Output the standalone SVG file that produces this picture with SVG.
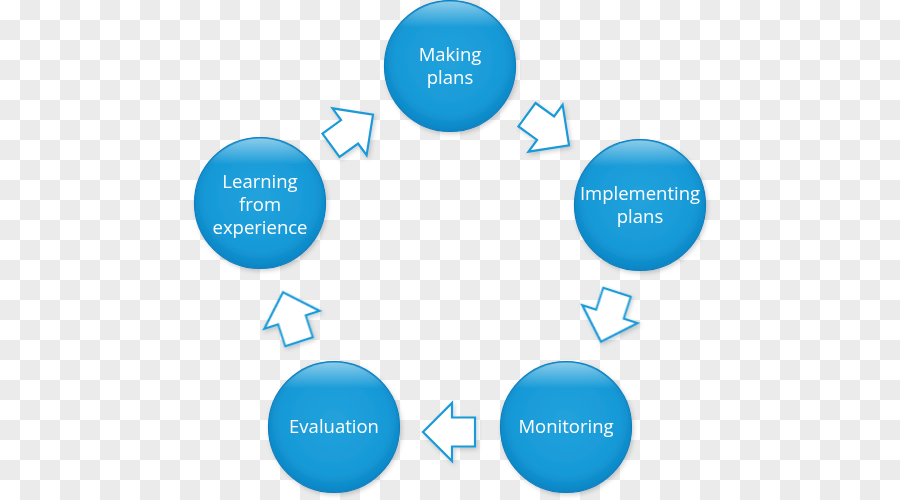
<svg xmlns="http://www.w3.org/2000/svg" width="900" height="500" viewBox="0 0 900 500">
  <defs>
    <pattern id="checker" width="40" height="40" patternUnits="userSpaceOnUse">
      <rect width="40" height="40" fill="#ffffff"/>
      <rect x="20" y="0" width="20" height="20" fill="#ebebeb"/>
      <rect x="0" y="20" width="20" height="20" fill="#ebebeb"/>
    </pattern>
    <radialGradient id="ballFill" cx="50%" cy="45%" r="55%">
      <stop offset="0" stop-color="#22a2dc"/>
      <stop offset="0.75" stop-color="#179ad7"/>
      <stop offset="1" stop-color="#0a84c4"/>
    </radialGradient>
    <linearGradient id="gloss" x1="0" y1="0" x2="0" y2="1">
      <stop offset="0" stop-color="#ffffff" stop-opacity="0.5"/>
      <stop offset="0.2" stop-color="#ffffff" stop-opacity="0"/>
      <stop offset="1" stop-color="#ffffff" stop-opacity="0"/>
    </linearGradient>
    <filter id="shadow" x="-20%" y="-20%" width="140%" height="140%">
      <feDropShadow dx="1.5" dy="2" stdDeviation="2" flood-color="#000" flood-opacity="0.18"/>
    </filter>
    <path id="arrow" d="M-26,-14.5 L-3,-14.5 L-3,-29 L26,0 L-3,29 L-3,14.5 L-26,14.5 Z"/>
    <g id="ball">
      <circle r="65.5" fill="url(#ballFill)" stroke="#0b7dbd" stroke-width="1.2"/>
      <circle r="64.5" fill="url(#gloss)"/>
    </g>
  </defs>
  <style>
    .lbl { font-family: "Open Sans", "Liberation Sans", sans-serif; font-size: 18.5px; fill: #ffffff; text-anchor: middle; }
    .arr { fill: #ffffff; stroke: #1b9ad8; stroke-width: 2.2; stroke-linejoin: miter; }
  </style>
  <rect width="900" height="500" fill="url(#checker)"/>

  <g id="connectors" filter="url(#shadow)">
    <use href="#arrow" class="arr" transform="translate(548,130) rotate(36)"/>
    <use href="#arrow" class="arr" transform="translate(609,317) rotate(108)"/>
    <use href="#arrow" class="arr" transform="translate(449,432) rotate(180)"/>
    <use href="#arrow" class="arr" transform="translate(291,317) rotate(252)"/>
    <use href="#arrow" class="arr" transform="translate(352,130) rotate(324)"/>
  </g>

  <g id="making-plans">
    <use href="#ball" x="450" y="66" filter="url(#shadow)"/>
    <text class="lbl" x="450" y="61">Making</text>
    <text class="lbl" x="450" y="84">plans</text>
  </g>
  <g id="implementing-plans">
    <use href="#ball" x="640" y="205" filter="url(#shadow)"/>
    <text class="lbl" x="640" y="200">Implementing</text>
    <text class="lbl" x="640" y="223">plans</text>
  </g>
  <g id="monitoring">
    <use href="#ball" x="566" y="427" filter="url(#shadow)"/>
    <text class="lbl" x="566" y="433">Monitoring</text>
  </g>
  <g id="evaluation">
    <use href="#ball" x="334" y="427" filter="url(#shadow)"/>
    <text class="lbl" x="334" y="433">Evaluation</text>
  </g>
  <g id="learning">
    <use href="#ball" x="260" y="203" filter="url(#shadow)"/>
    <text class="lbl" x="260" y="188">Learning</text>
    <text class="lbl" x="260" y="211">from</text>
    <text class="lbl" x="260" y="234">experience</text>
  </g>
</svg>
